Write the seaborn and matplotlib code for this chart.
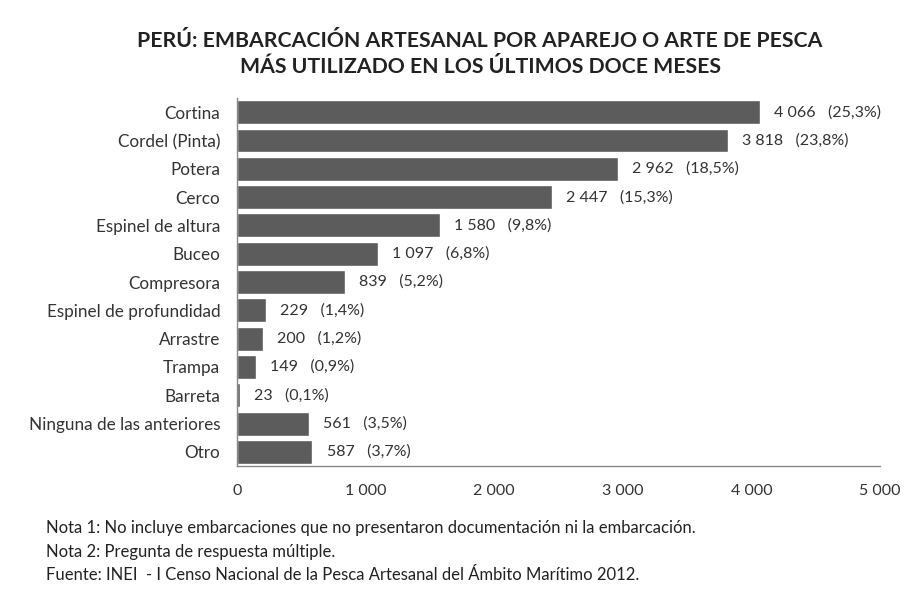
import matplotlib
matplotlib.use("Agg")
import matplotlib.pyplot as plt
import seaborn as sns
import pandas as pd

categories = ["Cortina", "Cordel (Pinta)", "Potera", "Cerco", "Espinel de altura",
              "Buceo", "Compresora", "Espinel de profundidad", "Arrastre", "Trampa",
              "Barreta", "Ninguna de las anteriores", "Otro"]
values = [4066, 3818, 2962, 2447, 1580, 1097, 839, 229, 200, 149, 23, 561, 587]
percents = ["25,3", "23,8", "18,5", "15,3", "9,8", "6,8", "5,2", "1,4", "1,2", "0,9",
            "0,1", "3,5", "3,7"]
xticks = [0, 1000, 2000, 3000, 4000, 5000]
xtick_labels = ["0", "1 000", "2 000", "3 000", "4 000", "5 000"]

sns.set_theme(style="white")
plt.rcParams["font.family"] = ["Lato", "DejaVu Sans"]

df = pd.DataFrame({"cat": categories, "val": values})

fig = plt.figure(figsize=(9.11, 5.90), dpi=100)
ax = fig.add_axes([0.260, 0.210, 0.706, 0.624])
sns.barplot(data=df, y="cat", x="val", orient="h", color="#5c5c5c",
            saturation=1, width=0.84, ax=ax)

def fmt(v):
    return f"{v:,}".replace(",", " ")

for i, (v, p) in enumerate(zip(values, percents)):
    ax.text(v + 110, i, f"{fmt(v)}   ({p}%)", va="center", ha="left",
            fontsize=11.5, color="#333333")

ax.set_xlim(0, 5000)
ax.set_ylim(len(categories) - 0.5, -0.5)
ax.set_xticks(xticks)
ax.set_xticklabels(xtick_labels)
ax.set_xlabel("")
ax.set_ylabel("")
ax.tick_params(axis="x", length=0, pad=13, labelsize=11.5, colors="#333333")
ax.tick_params(axis="y", length=0, pad=12, labelsize=12.3, colors="#333333")
for s in ["top", "right"]:
    ax.spines[s].set_visible(False)
for s in ["left", "bottom"]:
    ax.spines[s].set_color("#888888")
    ax.spines[s].set_linewidth(1.0)

fig.text(0.527, 0.930, "PERÚ: EMBARCACIÓN ARTESANAL POR APAREJO O ARTE DE PESCA",
         ha="center", va="center", fontsize=15.3, fontweight="bold", color="#222222")
fig.text(0.527, 0.886, "MÁS UTILIZADO EN LOS ÚLTIMOS DOCE MESES",
         ha="center", va="center", fontsize=15.3, fontweight="bold", color="#222222")

notes = ["Nota 1: No incluye embarcaciones que no presentaron documentación ni la embarcación.",
         "Nota 2: Pregunta de respuesta múltiple.",
         "Fuente: INEI  - I Censo Nacional de la Pesca Artesanal del Ámbito Marítimo 2012."]
for k, t in enumerate(notes):
    fig.text(0.050, 0.105 - k * 0.040, t, ha="left", va="center", fontsize=12,
             color="#222222")

fig.savefig("out.png", dpi=100, facecolor="white")
